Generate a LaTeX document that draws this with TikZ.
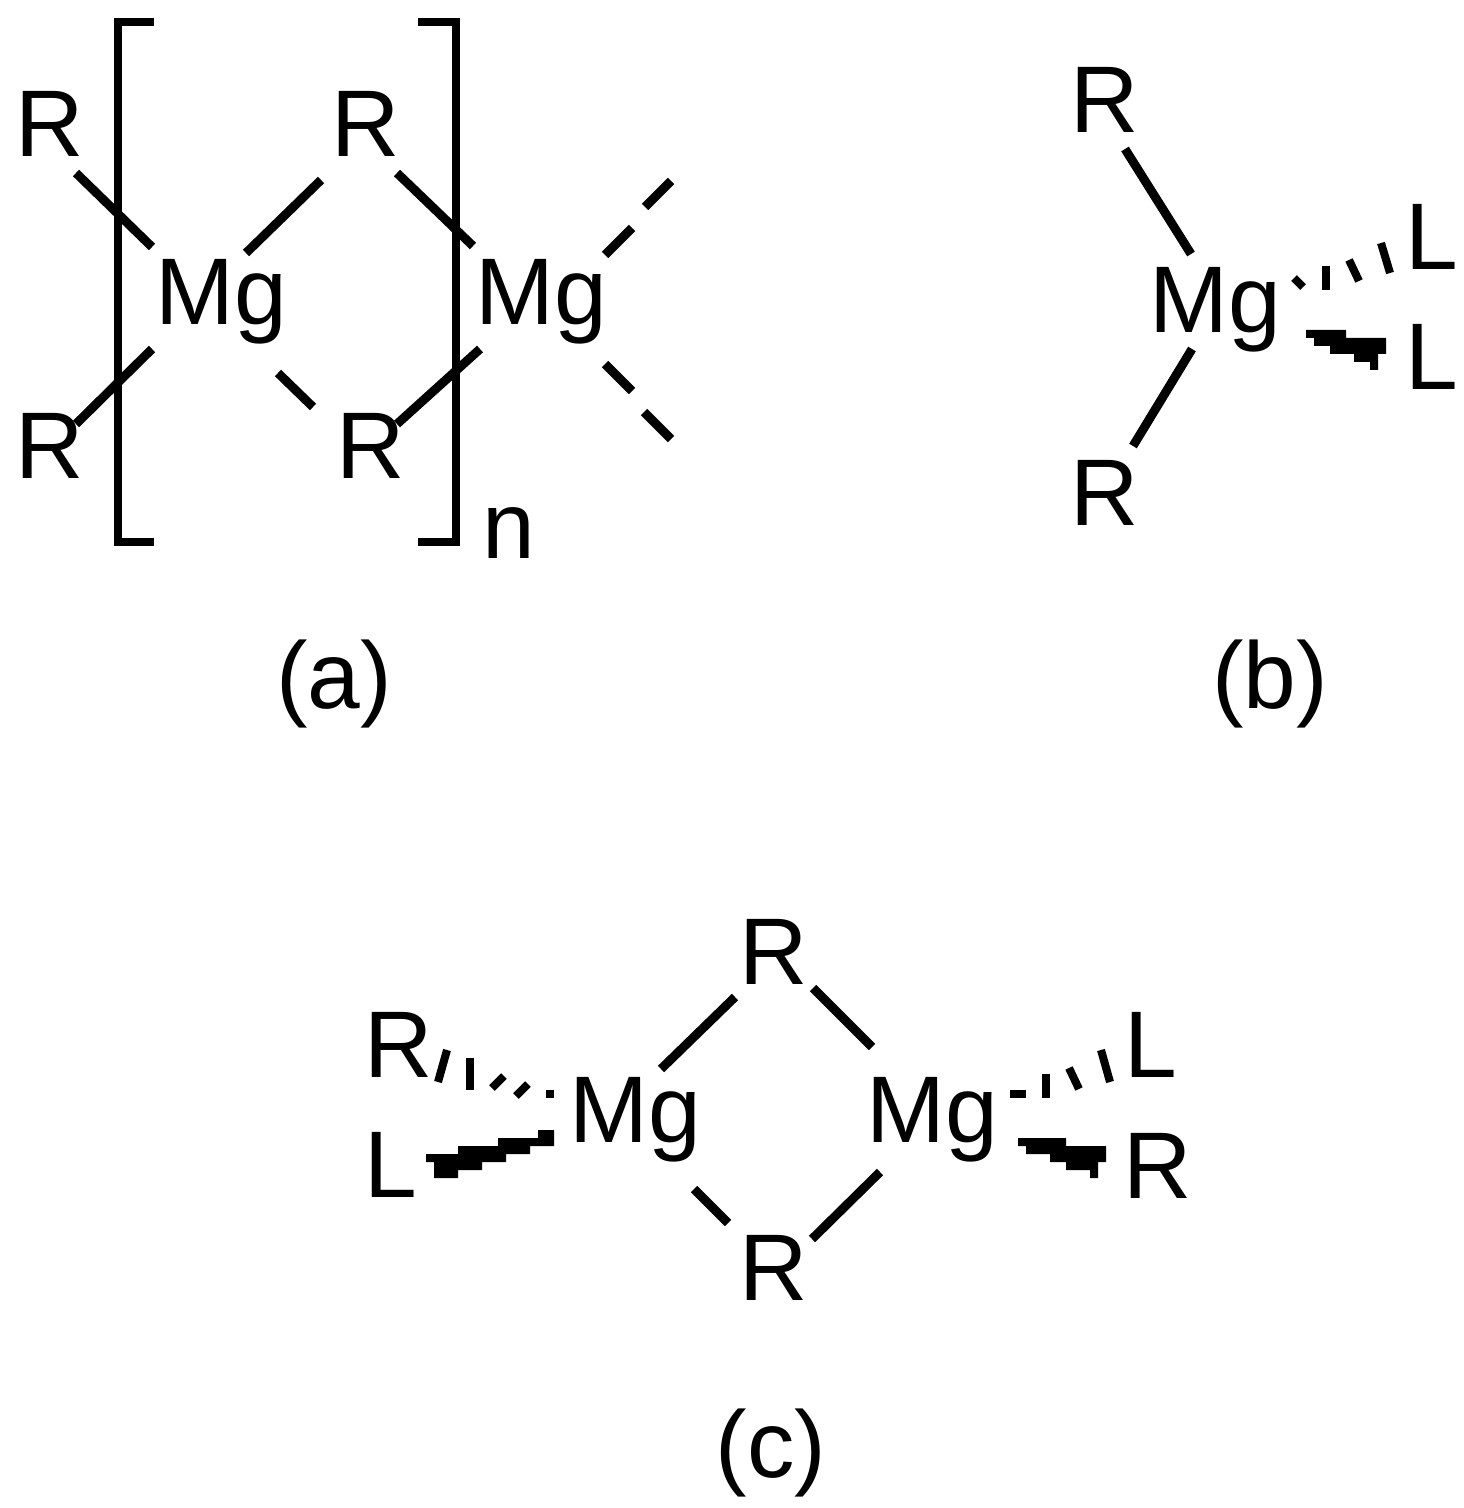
\documentclass[tikz,border=0pt]{standalone}
\usepackage{fontspec}
\setmainfont{Liberation Sans}
\usetikzlibrary{calc}
\tikzset{
  x=0.75pt,y=-0.75pt,
  chem/.style={inner sep=0pt,outer sep=0pt,anchor=base,font=\fontsize{71}{80}\selectfont},
  caption/.style={inner sep=0pt,outer sep=0pt,anchor=base,font=\fontsize{71}{80}\selectfont},
  bond/.style={line width=6.7pt,line cap=butt,black},
  bracket/.style={line width=6pt,line cap=butt,line join=miter,black},
  hash/.style={line width=6pt,line cap=butt,black},
  wedge/.style={fill=black,draw=none}
}
\begin{document}
\begin{tikzpicture}
\useasboundingbox (0,0) rectangle (1463,1508);
% panel a
\node[chem] (r1) at (50,157) {R};
\node[chem] (r2) at (50,478) {R};
\node[chem] (r3) at (366,157) {R};
\node[chem] (r4) at (371,478) {R};
\node[chem] (mgA) at (221,325) {Mg};
\node[chem] (mgB) at (541,325) {Mg};
\node[chem] (nn) at (509,558) {n};
\node[caption] (capa) at (334,708) {(a)};
\draw[bracket] (154,22) -- (118,22) -- (118,542) -- (154,542);
\draw[bracket] (418,22) -- (456,22) -- (456,542) -- (418,542);
\draw[bond] ($(r1.base)+(26,16)$) -- ($(mgA.base)+(-69,-78)$);
\draw[bond] ($(r2.base)+(26,-54)$) -- ($(mgA.base)+(-69,24)$);
\draw[bond] ($(mgA.base)+(25,-72)$) -- ($(r3.base)+(-45,23)$);
\draw[bond] ($(r3.base)+(31,16)$) -- ($(mgB.base)+(-68,-79)$);
\draw[bond] ($(mgA.base)+(57,48)$) -- ($(r4.base)+(-58,-71)$);
\draw[bond] ($(r4.base)+(26,-54)$) -- ($(mgB.base)+(-61,24)$);
\coordinate (endU) at (671,181);
\coordinate (endD) at (671,439);
\coordinate (midU) at (632,228);
\coordinate (midD) at (632,391);
\draw[bond] ($(mgB.base)+(64,-70)$) -- (midU);
\draw[bond] (645,207) -- (endU);
\draw[bond] ($(mgB.base)+(64,39)$) -- (midD);
\draw[bond] (644,412) -- (endD);
% panel b
\node[chem] (r5) at (1105,133) {R};
\node[chem] (r6) at (1105,525) {R};
\node[chem] (mgC) at (1215,333) {Mg};
\node[chem] (l1) at (1432,270) {L};
\node[chem] (l2) at (1432,390) {L};
\node[caption] (capb) at (1270,708) {(b)};
\draw[bond] ($(r5.base)+(20,16)$) -- ($(mgC.base)+(-24,-79)$);
\draw[bond] ($(mgC.base)+(-23,16)$) -- ($(r6.base)+(28,-79)$);
\draw[hash] (1294,278) -- (1303,287);
\draw[hash] (1326,266) -- (1326,290);
\draw[hash] (1349,260) -- (1359,281);
\draw[hash] (1381,243) -- (1390,273);
\fill[wedge] (1306,330) -- (1346,330) -- (1346,338) -- (1386,338) -- (1386,354) -- (1378,354) -- (1378,370) -- (1370,370) -- (1370,362) -- (1354,362) -- (1354,354) -- (1330,354) -- (1330,346) -- (1314,346) -- (1314,338) -- (1306,338) -- cycle;
% panel c
\node[chem] (r7) at (399,1077) {R};
\node[chem] (l3) at (391,1197) {L};
\node[chem] (mgD) at (635,1142) {Mg};
\node[chem] (mgE) at (932,1142) {Mg};
\node[chem] (r8) at (774,984) {R};
\node[chem] (r9) at (774,1300) {R};
\node[chem] (l4) at (1151,1077) {L};
\node[chem] (r10) at (1158,1198) {R};
\node[caption] (capc) at (771,1477) {(c)};
\draw[bond] ($(mgD.base)+(26,-73)$) -- ($(r8.base)+(-39,13)$);
\draw[bond] ($(r8.base)+(39,4)$) -- ($(mgE.base)+(-60,-95)$);
\draw[bond] ($(mgD.base)+(59,47)$) -- ($(r9.base)+(-46,-77)$);
\draw[bond] ($(r9.base)+(38,-61)$) -- ($(mgE.base)+(-52,30)$);
\draw[hash] (447,1050) -- (438,1082);
\draw[hash] (470,1058) -- (470,1090);
\draw[hash] (492,1088) -- (504,1076);
\draw[hash] (516,1096) -- (528,1084);
\fill[wedge] (546,1090) rectangle (554,1098);
\fill[wedge] (538,1130) -- (554,1130) -- (554,1146) -- (530,1146) -- (530,1154) -- (506,1154) -- (506,1162) -- (482,1162) -- (482,1170) -- (458,1170) -- (458,1178) -- (434,1178) -- (434,1162) -- (426,1162) -- (426,1154) -- (458,1154) -- (458,1146) -- (498,1146) -- (498,1138) -- (538,1138) -- cycle;
\draw[hash] (1010,1094) -- (1026,1094);
\draw[hash] (1046,1074) -- (1046,1098);
\draw[hash] (1069,1068) -- (1079,1089);
\draw[hash] (1101,1050) -- (1110,1082);
\fill[wedge] (1018,1138) -- (1066,1138) -- (1066,1146) -- (1106,1146) -- (1106,1162) -- (1098,1162) -- (1098,1178) -- (1090,1178) -- (1090,1170) -- (1066,1170) -- (1066,1162) -- (1050,1162) -- (1050,1154) -- (1026,1154) -- (1026,1146) -- (1018,1146) -- cycle;
\end{tikzpicture}
\end{document}
